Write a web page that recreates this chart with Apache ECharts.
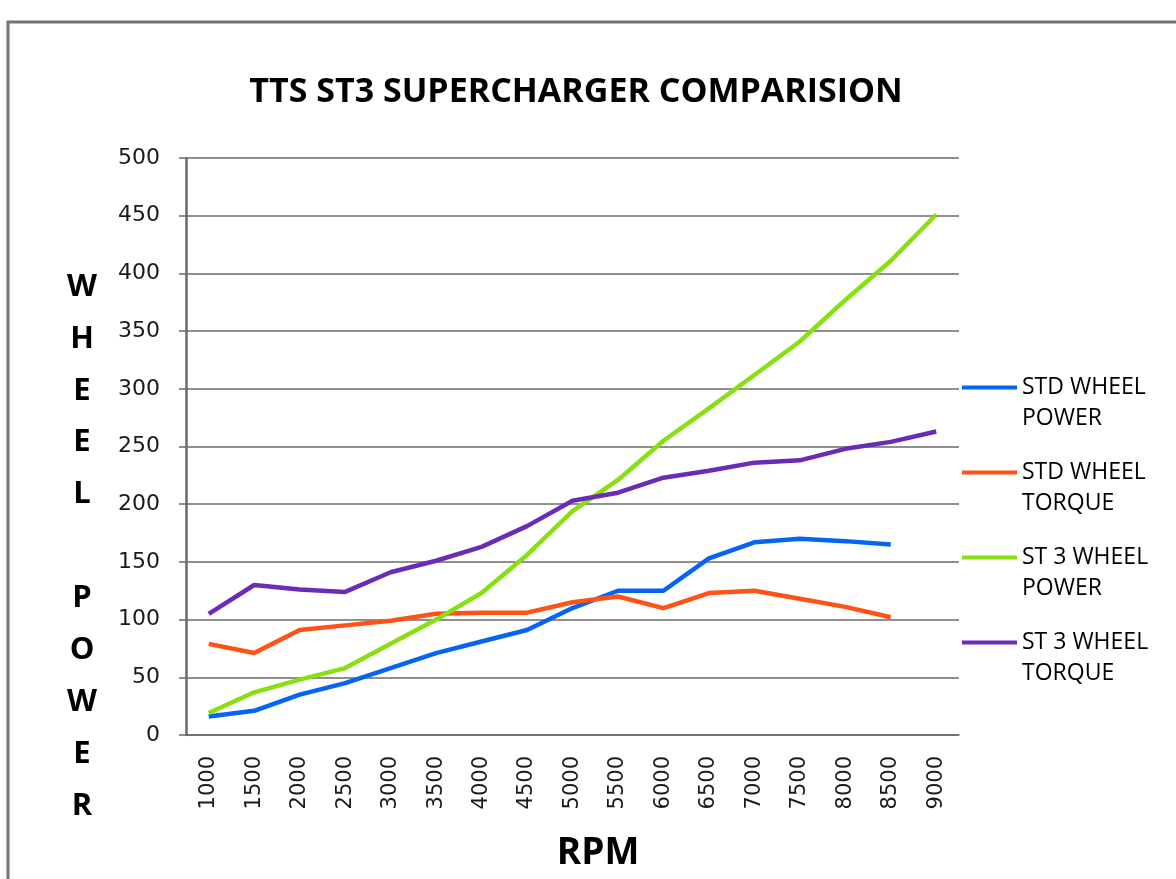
<!DOCTYPE html>
<html>
<head>
<meta charset="utf-8">
<title>TTS ST3 SUPERCHARGER COMPARISION</title>
<script src="https://cdn.jsdelivr.net/npm/echarts@6/dist/echarts.min.js"></script>
<style>
  html, body { margin: 0; padding: 0; background: #fff; }
  #chart { width: 1176px; height: 879px; }
</style>
</head>
<body>
<div id="chart"></div>
<script>
// categories (RPM)
const rpm = ['1000', '1500', '2000', '2500', '3000', '3500', '4000', '4500', '5000',
  '5500', '6000', '6500', '7000', '7500', '8000', '8500', '9000'];

// series values
const stdPower = [16, 21, 35, 45, 58, 71, 81, 91, 110, 125, 125, 153, 167, 170, 168, 165];
const stdTorque = [79, 71, 91, 95, 99, 105, 106, 106, 115, 120, 110, 123, 125, 118, 111, 102];
const st3Power = [19, 37, 48, 58, 79, 100, 123, 156, 194, 221, 255, 283, 312, 341, 377, 411, 451];
const st3Torque = [105, 130, 126, 124, 141, 151, 163, 181, 203, 210, 223, 229, 236, 238, 248, 254, 263];

const seriesNames = ['STD WHEEL POWER', 'STD WHEEL TORQUE', 'ST3 WHEEL POWER', 'ST3 WHEEL TORQUE'];
// leading blank line keeps the legend line level with the first text line
const legendLabels = {
  'STD WHEEL POWER': '\nSTD WHEEL\nPOWER',
  'STD WHEEL TORQUE': '\nSTD WHEEL\nTORQUE',
  'ST3 WHEEL POWER': '\nST 3 WHEEL\nPOWER',
  'ST3 WHEEL TORQUE': '\nST 3 WHEEL\nTORQUE'
};
const colors = ['#0764f2', '#ff5214', '#88df12', '#6a2cb6'];

const chart = echarts.init(document.getElementById('chart'));

function line(name, data, color) {
  return {
    name: name,
    type: 'line',
    data: data,
    showSymbol: false,
    symbol: 'none',
    lineStyle: { color: color, width: 4.5 },
    itemStyle: { color: color },
    emphasis: { disabled: true }
  };
}

const option = {
  animation: false,
  backgroundColor: '#fff',
  title: {
    text: 'TTS ST3 SUPERCHARGER COMPARISION',
    left: 571,
    top: 70,
    textAlign: 'center',
    textStyle: { fontFamily: 'Open Sans', fontWeight: 'bold', fontSize: 34, color: '#000' }
  },
  legend: {
    orient: 'vertical',
    left: 962,
    top: 341,
    padding: 0,
    itemGap: -8,
    itemWidth: 55,
    itemHeight: 4,
    icon: 'rect',
    data: seriesNames,
    formatter: function (n) { return legendLabels[n]; },
    textStyle: {
      fontFamily: 'Open Sans',
      fontSize: 23,
      color: '#000',
      lineHeight: 31
    }
  },
  grid: { left: 186, right: 217, top: 158, bottom: 144, containLabel: false },
  xAxis: {
    type: 'category',
    data: rpm,
    boundaryGap: true,
    axisLine: { lineStyle: { color: '#6a6a6a', width: 1.5 } },
    axisTick: { length: 9, lineStyle: { color: '#6a6a6a', width: 1.5 } },
    axisLabel: {
      rotate: 90,
      margin: 21,
      interval: 0,
      fontFamily: 'DejaVu Sans',
      fontSize: 21,
      color: '#1a1a1a'
    }
  },
  yAxis: {
    type: 'value',
    min: 0,
    max: 500,
    interval: 50,
    axisLine: { show: true, lineStyle: { color: '#6a6a6a', width: 2.5 } },
    axisTick: { show: true, length: 7, lineStyle: { color: '#6a6a6a', width: 1.5 } },
    splitLine: { lineStyle: { color: '#6a6a6a', width: 1.5 } },
    axisLabel: {
      margin: 26,
      fontFamily: 'DejaVu Sans',
      fontSize: 22,
      color: '#1a1a1a'
    }
  },
  graphic: [
    {
      type: 'rect',
      shape: { x: 8, y: 22, width: 1300, height: 1000 },
      style: { fill: 'none', stroke: '#737373', lineWidth: 3 },
      silent: true
    },
    {
      type: 'text',
      x: 82,
      y: 261,
      style: {
        text: 'W\nH\nE\nE\nL\n\nP\nO\nW\nE\nR',
        fontFamily: 'Open Sans',
        fontWeight: 'bold',
        fontSize: 31,
        lineHeight: 51.9,
        fill: '#000',
        align: 'center',
        verticalAlign: 'top'
      }
    },
    {
      type: 'text',
      x: 598,
      y: 853,
      style: {
        text: 'RPM',
        fontFamily: 'Open Sans',
        fontWeight: 'bold',
        fontSize: 37,
        fill: '#000',
        align: 'center',
        verticalAlign: 'middle'
      }
    }
  ],
  series: [
    line(seriesNames[0], stdPower, colors[0]),
    line(seriesNames[1], stdTorque, colors[1]),
    line(seriesNames[2], st3Power, colors[2]),
    line(seriesNames[3], st3Torque, colors[3])
  ]
};

chart.setOption(option);
</script>
</body>
</html>
